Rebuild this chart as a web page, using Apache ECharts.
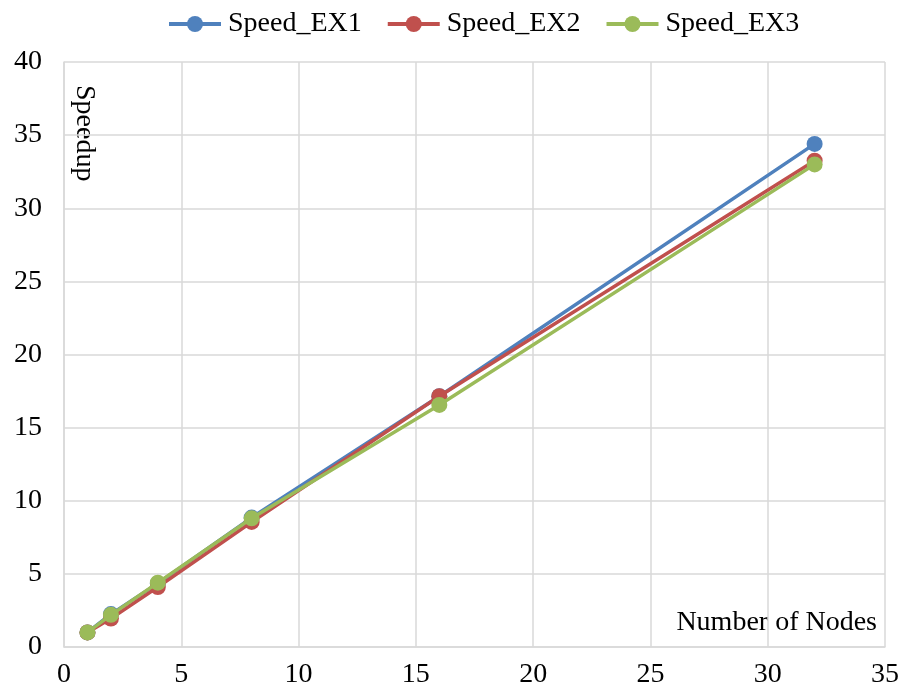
<!DOCTYPE html>
<html><head><meta charset="utf-8">
<script src="https://cdn.jsdelivr.net/npm/echarts@6/dist/echarts.min.js"></script>
<style>html,body{margin:0;padding:0;background:#fff}#c{width:902px;height:691px}</style>
</head><body><div id="c"></div>
<script>
const nodes = [1, 2, 4, 8, 16, 32];
const speedEX1 = [1.0, 2.25, 4.35, 8.85, 17.15, 34.4];
const speedEX2 = [1.0, 1.95, 4.1, 8.55, 17.15, 33.25];
const speedEX3 = [1.0, 2.2, 4.4, 8.8, 16.55, 33.0];
const seriesNames = ['Speed_EX1', 'Speed_EX2', 'Speed_EX3'];
const colors = ['#4F81BD', '#C0504D', '#9BBB59'];
const font = 'Liberation Serif, Times New Roman, serif';

const chart = echarts.init(document.getElementById('c'));
const mk = (name, vals, color, z) => ({
  name, type: 'line', z,
  data: nodes.map((n, i) => [n, vals[i]]),
  symbol: 'circle', symbolSize: 16,
  lineStyle: { width: 3.5, color },
  itemStyle: { color },
  emphasis: { disabled: true }
});
chart.setOption({
  animation: false,
  textStyle: { fontFamily: font },
  legend: {
    top: 5, left: 162, itemWidth: 52, itemHeight: 20, itemGap: 24,
    lineStyle: { width: 4 },
    textStyle: { fontFamily: font, fontSize: 28, color: '#000', padding: [0, 0, 0, 2] },
    data: seriesNames
  },
  grid: { left: 64, right: 15, top: 62, bottom: 44, containLabel: false },
  xAxis: {
    type: 'value', min: 0, max: 35, interval: 5,
    axisLine: { show: true, lineStyle: { color: '#d9d9d9', width: 1.5 } },
    axisTick: { show: false },
    axisLabel: { fontFamily: font, fontSize: 28, color: '#000', margin: 14 },
    splitLine: { show: true, lineStyle: { color: '#d9d9d9', width: 1.5 } }
  },
  yAxis: {
    type: 'value', min: 0, max: 40, interval: 5,
    axisLine: { show: true, lineStyle: { color: '#d9d9d9', width: 1.5 } },
    axisTick: { show: false },
    axisLabel: { fontFamily: font, fontSize: 28, color: '#000', margin: 22 },
    splitLine: { show: true, lineStyle: { color: '#d9d9d9', width: 1.5 } }
  },
  graphic: [
    { type: 'text', x: 877, y: 609,
      style: { text: 'Number of Nodes', font: '28px ' + font, fill: '#000', align: 'right', verticalAlign: 'top' } },
    { type: 'text', x: 98, y: 85, rotation: -Math.PI / 2,
      style: { text: 'Speedup', font: '28px ' + font, fill: '#000', verticalAlign: 'top' } }
  ],
  series: [
    mk(seriesNames[0], speedEX1, colors[0], 2),
    mk(seriesNames[1], speedEX2, colors[1], 3),
    mk(seriesNames[2], speedEX3, colors[2], 4)
  ]
});
</script></body></html>
